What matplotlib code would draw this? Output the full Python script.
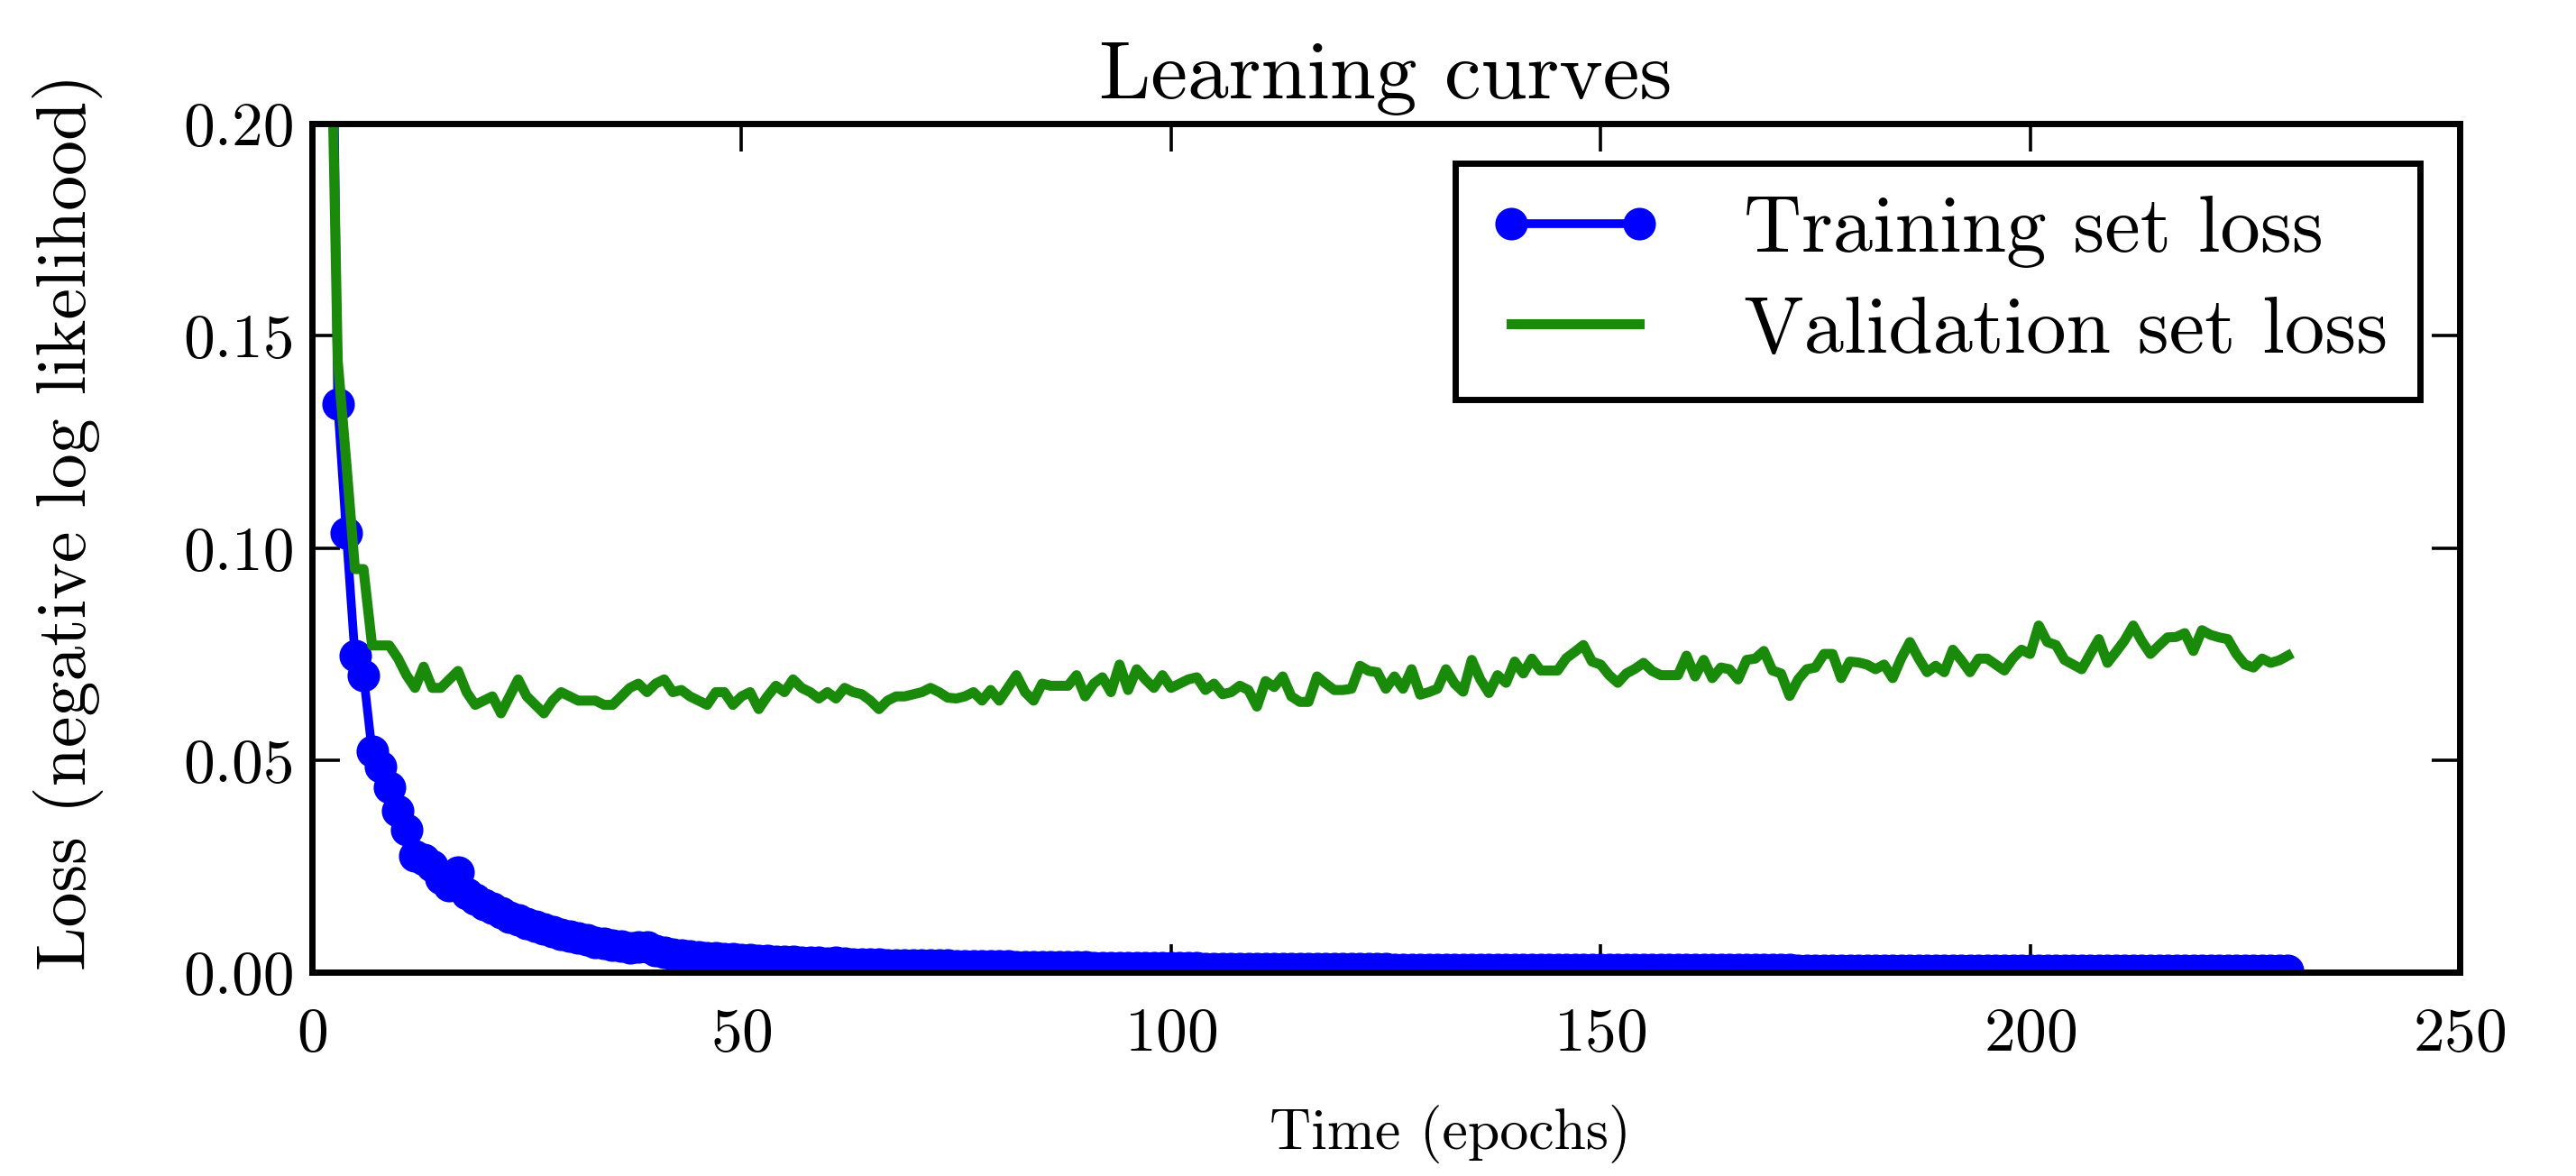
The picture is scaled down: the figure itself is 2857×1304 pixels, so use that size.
import numpy as np
import matplotlib
matplotlib.use("Agg")
import matplotlib.pyplot as plt

plt.rcParams['font.family'] = ['cmr10', 'DejaVu Serif']
plt.rcParams['axes.formatter.use_mathtext'] = True
plt.rcParams['mathtext.fontset'] = 'cm'

# epochs 1..230
epochs = np.arange(1, 231)

train_loss = [
    0.55, 0.30, 0.134, 0.1035, 0.0746, 0.0700, 0.052, 0.0484, 0.0435, 0.038,
    0.0336, 0.0275, 0.0265, 0.0251, 0.0220, 0.0205, 0.0236, 0.0185, 0.0173, 0.0160,
    0.0151, 0.0140, 0.0130, 0.0123, 0.0115, 0.0108, 0.0102, 0.0095, 0.0090, 0.0085,
    0.0081, 0.0076, 0.0071, 0.0067, 0.0064, 0.0061, 0.0058, 0.0060, 0.0059, 0.0050,
    0.0046, 0.0043, 0.0041, 0.0039, 0.0037, 0.0035, 0.0034, 0.0032, 0.0031, 0.0030,
    0.0029, 0.0028, 0.0027, 0.0026, 0.0026, 0.0025, 0.0024, 0.0023, 0.0023, 0.0022,
    0.0024, 0.0021, 0.0020, 0.0020, 0.0019, 0.0019, 0.0018, 0.0018, 0.0017, 0.0017,
    0.0017, 0.0016, 0.0016, 0.0016, 0.0015, 0.0015, 0.0015, 0.0014, 0.0014, 0.0014,
    0.0014, 0.0013, 0.0013, 0.0013, 0.0013, 0.0012, 0.0012, 0.0012, 0.0012, 0.0012,
    0.0011, 0.0011, 0.0011, 0.0011, 0.0011, 0.0011, 0.0010, 0.0010, 0.0010, 0.0010,
    0.0010, 0.0010, 0.0010, 0.0009, 0.0009, 0.0009, 0.0009, 0.0009, 0.0009, 0.0009,
    0.0009, 0.0008, 0.0008, 0.0008, 0.0008, 0.0008, 0.0008, 0.0008, 0.0008, 0.0008,
    0.0008, 0.0008, 0.0008, 0.0008, 0.0008, 0.0007, 0.0007, 0.0007, 0.0007, 0.0007,
    0.0007, 0.0007, 0.0007, 0.0007, 0.0007, 0.0007, 0.0007, 0.0007, 0.0007, 0.0007,
    0.0007, 0.0007, 0.0007, 0.0006, 0.0006, 0.0006, 0.0006, 0.0006, 0.0006, 0.0006,
    0.0006, 0.0006, 0.0006, 0.0006, 0.0006, 0.0006, 0.0006, 0.0006, 0.0006, 0.0006,
    0.0006, 0.0006, 0.0006, 0.0006, 0.0006, 0.0006, 0.0006, 0.0006, 0.0006, 0.0006,
    0.0006, 0.0006, 0.0005, 0.0005, 0.0005, 0.0005, 0.0005, 0.0005, 0.0005, 0.0005,
    0.0005, 0.0005, 0.0005, 0.0005, 0.0005, 0.0005, 0.0005, 0.0005, 0.0005, 0.0005,
    0.0005, 0.0005, 0.0005, 0.0005, 0.0005, 0.0005, 0.0005, 0.0005, 0.0005, 0.0005,
    0.0005, 0.0005, 0.0005, 0.0005, 0.0005, 0.0005, 0.0005, 0.0005, 0.0005, 0.0005,
    0.0005, 0.0005, 0.0005, 0.0005, 0.0005, 0.0005, 0.0005, 0.0005, 0.0005, 0.0005,
    0.0005, 0.0005, 0.0005, 0.0005, 0.0005, 0.0005, 0.0005, 0.0005, 0.0005, 0.0005,
]

valid_loss = [
    0.45, 0.25, 0.144, 0.120, 0.095, 0.095, 0.077, 0.077, 0.077, 0.074,
    0.070, 0.067, 0.072, 0.067, 0.067, 0.069, 0.071, 0.066, 0.063, 0.064,
    0.065, 0.061, 0.065, 0.069, 0.065, 0.063, 0.061, 0.064, 0.066, 0.065,
    0.064, 0.064, 0.064, 0.063, 0.063, 0.065, 0.067, 0.068, 0.066, 0.068,
    0.069, 0.066, 0.0665, 0.065, 0.064, 0.063, 0.066, 0.066, 0.063, 0.065,
    0.066, 0.062, 0.065, 0.0675, 0.066, 0.069, 0.067, 0.066, 0.0645, 0.066,
    0.0645, 0.067, 0.066, 0.0655, 0.064, 0.062, 0.064, 0.065, 0.065, 0.0655,
    0.066, 0.067, 0.066, 0.0647, 0.0645, 0.065, 0.066, 0.064, 0.0665, 0.064,
    0.067, 0.070, 0.066, 0.064, 0.068, 0.0675, 0.0675, 0.0675, 0.070, 0.065,
    0.068, 0.0695, 0.066, 0.0725, 0.0665, 0.0714, 0.069, 0.067, 0.070, 0.067,
    0.068, 0.069, 0.0695, 0.0665, 0.068, 0.0655, 0.066, 0.0675, 0.0665, 0.0626,
    0.0686, 0.0672, 0.0697, 0.065, 0.0637, 0.0637, 0.0697, 0.068, 0.0665, 0.0665,
    0.0668, 0.0722, 0.071, 0.0707, 0.0668, 0.0697, 0.0668, 0.0714, 0.0654, 0.066,
    0.0668, 0.0714, 0.068, 0.0661, 0.0736, 0.069, 0.0658, 0.0700, 0.0682, 0.0732,
    0.0704, 0.0739, 0.0711, 0.0711, 0.0711, 0.074, 0.0755, 0.0771, 0.0732, 0.0725,
    0.070, 0.0682, 0.0704, 0.0715, 0.0729, 0.071, 0.070, 0.0700, 0.0700, 0.0746,
    0.0697, 0.0736, 0.0693, 0.0718, 0.0714, 0.069, 0.0736, 0.0739, 0.0757, 0.0711,
    0.0704, 0.0651, 0.069, 0.0714, 0.0718, 0.0750, 0.0750, 0.0693, 0.0732, 0.073,
    0.0725, 0.0714, 0.0725, 0.0693, 0.074, 0.0778, 0.074, 0.0707, 0.0722, 0.0707,
    0.0760, 0.0735, 0.0707, 0.0739, 0.0739, 0.0725, 0.0711, 0.074, 0.0760, 0.0750,
    0.0817, 0.0778, 0.0771, 0.0736, 0.0725, 0.0714, 0.075, 0.0785, 0.0729, 0.0755,
    0.0782, 0.0817, 0.078, 0.0750, 0.077, 0.0789, 0.079, 0.0799, 0.0757, 0.0806,
    0.0795, 0.0789, 0.0785, 0.075, 0.0725, 0.0718, 0.0739, 0.0729, 0.0735, 0.0746,
]

x_ticks = [0, 50, 100, 150, 200, 250]
y_ticks = [0.00, 0.05, 0.10, 0.15, 0.20]

fig = plt.figure(figsize=(14.285, 6.52), dpi=200)
ax = fig.add_axes([346 / 2857, 1 - 1078 / 1304, (2728 - 346) / 2857, (1078 - 137) / 1304])

ax.plot(epochs, train_loss, '-o', color='#0000ff', mec='#0000ff', lw=3.5, ms=12,
        label='Training set loss')
ax.plot(epochs, valid_loss, '-', color='#1a8a0a', lw=4, label='Validation set loss')

ax.set_xlim(0, 250)
ax.set_ylim(0, 0.20)
ax.set_xticks(x_ticks)
ax.set_yticks(y_ticks)
ax.yaxis.set_major_formatter(matplotlib.ticker.FormatStrFormatter('%.2f'))

for s in ax.spines.values():
    s.set_linewidth(2.5)
ax.tick_params(direction='in', top=True, right=True, length=11, width=1.3,
               labelsize=25)
ax.tick_params(axis='x', pad=14)
ax.tick_params(axis='y', pad=7)

ax.set_title('Learning curves', fontsize=33, pad=10)
ax.set_xlabel('Time (epochs)', fontsize=23)
ax.set_ylabel('Loss (negative log likelihood)', fontsize=28)
ax.xaxis.set_label_coords(0.53, -0.156)
ax.yaxis.set_label_coords(-0.097, 0.53)

leg = ax.legend(loc='upper right', numpoints=2, fontsize=32, fancybox=False,
                edgecolor='black', framealpha=1, borderaxespad=0.5,
                handlelength=2.2, handletextpad=1.0, borderpad=0.4,
                labelspacing=0.35)
leg.get_frame().set_linewidth(2.5)

fig.savefig('out.png', dpi=200)
